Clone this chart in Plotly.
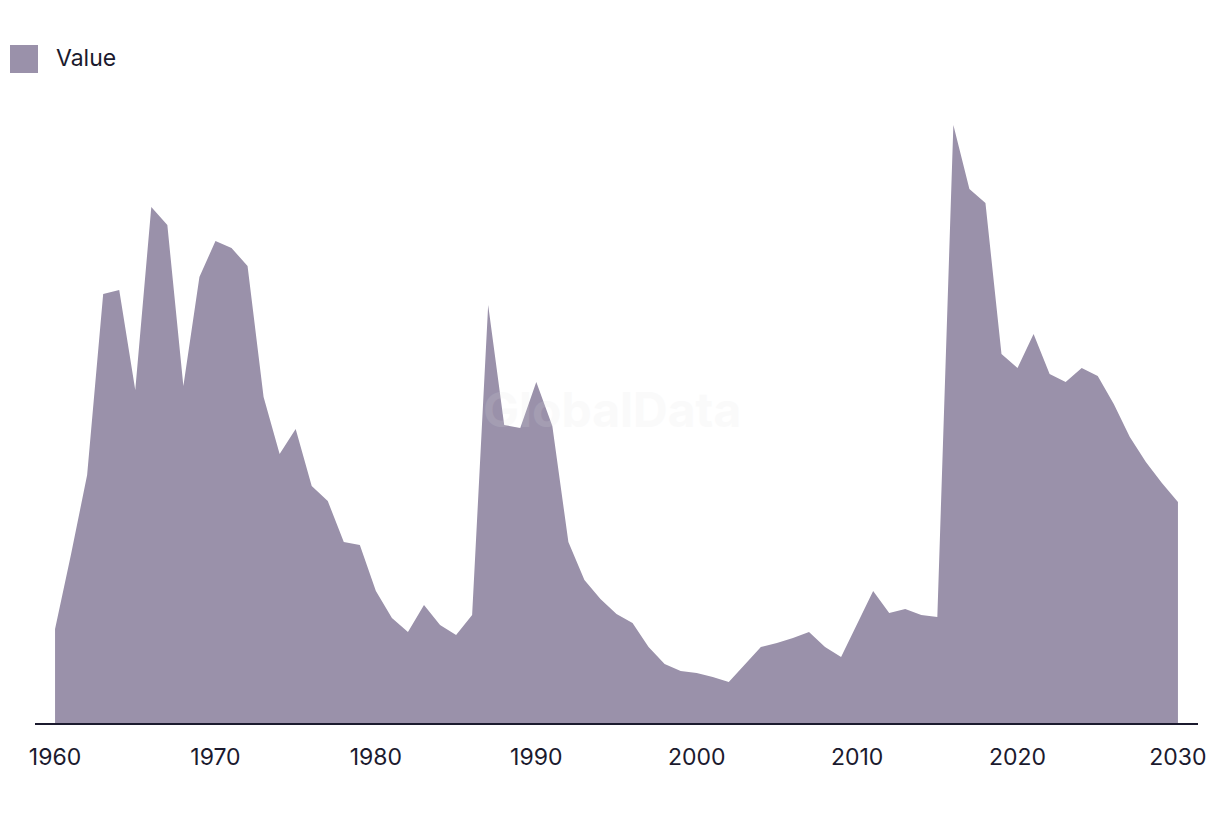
import plotly.graph_objects as go

years = list(range(1960, 2031))
values = [94, 169, 248, 429, 433, 333, 516, 498, 337, 446,
          482, 475, 457, 326, 269, 294, 237, 222, 181, 178,
          132, 105, 91, 118, 98, 88, 108, 418, 298, 295,
          341, 297, 181, 143, 124, 109, 100, 76, 59, 52,
          50, 46, 41, 59, 76, 80, 85, 91, 76, 66,
          99, 132, 110, 114, 108, 106, 598, 534, 520, 369,
          355, 389, 349, 341, 355, 347, 319, 286, 261, 240, 221]
tick_vals = [1960, 1970, 1980, 1990, 2000, 2010, 2020, 2030]
tick_text = [str(t) for t in tick_vals]

fill_color = "#9a91aa"
text_color = "#1b1a2e"

fig = go.Figure()
fig.add_trace(go.Scatter(
    x=years, y=values, mode="lines", fill="tozeroy",
    line=dict(width=0, color=fill_color), fillcolor=fill_color,
    name="Value", showlegend=False, hoverinfo="x+y"))

W, H = 1220, 816
ml, mr, mt, mb = 35, 22, 83, 93
pw = W - ml - mr
ph = H - mt - mb

def px(x):
    return (x - ml) / pw

def py(y):
    return (H - mb - y) / ph

fig.update_layout(
    width=W, height=H,
    margin=dict(l=ml, r=mr, t=mt, b=mb),
    paper_bgcolor="white", plot_bgcolor="white",
    font=dict(family="Inter, Roboto, sans-serif", color=text_color, size=20),
    xaxis=dict(range=[1958.75, 2031.25], tickvals=tick_vals, ticktext=tick_text,
               showgrid=False, zeroline=False, showline=True, linecolor=text_color,
               linewidth=2, ticks="", ticklabelstandoff=12,
               tickfont=dict(size=23, color=text_color)),
    yaxis=dict(range=[0, 640], visible=False, showgrid=False, zeroline=False),
    showlegend=False,
    shapes=[dict(type="rect", xref="paper", yref="paper",
                 x0=px(10), x1=px(38), y0=py(73), y1=py(45),
                 fillcolor=fill_color, line=dict(width=0), layer="above")],
    annotations=[
        dict(text="Value", xref="paper", yref="paper", x=px(54), y=py(58),
             xanchor="left", yanchor="middle", showarrow=False,
             font=dict(size=23, color=text_color)),
        dict(text="<b>GlobalData</b>", xref="paper", yref="paper",
             x=px(612), y=py(409), xanchor="center", yanchor="middle",
             showarrow=False, opacity=0.15,
             font=dict(size=48, color="#e0e0e0")),
    ],
)

fig.write_html("out.html")
